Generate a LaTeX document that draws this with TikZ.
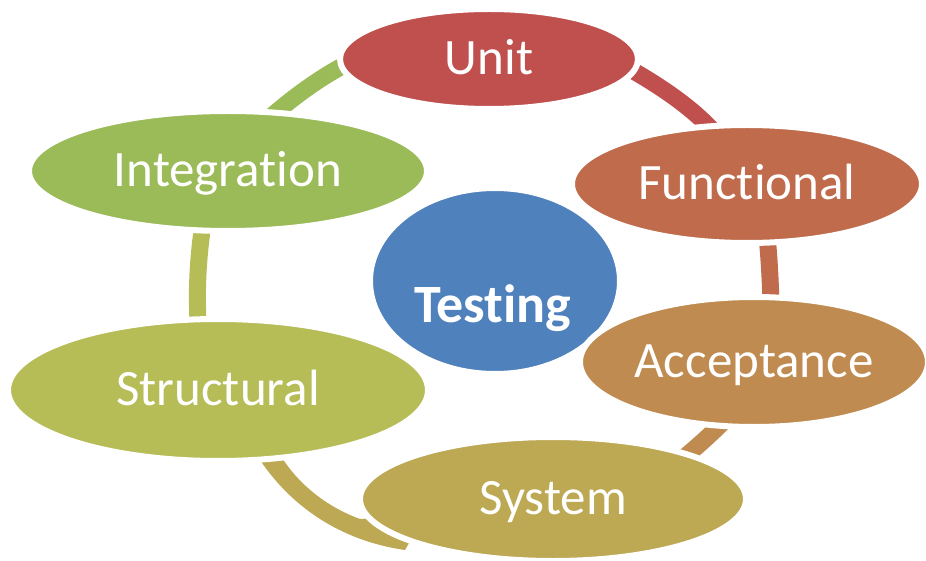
\documentclass[tikz,border=0pt]{standalone}
\usepackage{fontspec}
\setmainfont{Carlito}[Ligatures=NoCommon]
\usetikzlibrary{shapes.geometric}
\definecolor{unitC}{HTML}{C0504D}
\definecolor{funcC}{HTML}{BF6B4C}
\definecolor{accC}{HTML}{C08B50}
\definecolor{sysC}{HTML}{BDA853}
\definecolor{strC}{HTML}{B6BD57}
\definecolor{intC}{HTML}{9BBB59}
\definecolor{testC}{HTML}{4F81BD}
\begin{document}
\begin{tikzpicture}[x=1pt,y=-1pt,
  seg/.style={line width=17pt, line cap=butt},
  bubble/.style={ellipse, draw=white, line width=6pt, inner sep=0pt, text=white,
    font=\fontsize{51}{60}\selectfont, text height=31pt, text depth=0pt},
  centrelbl/.style={inner sep=0pt, text=white, font=\bfseries\fontsize{54}{60}\selectfont,
    text height=32pt, text depth=0pt}
]
\useasboundingbox (0,0) rectangle (926,561);

% ring segments (drawn first, partly hidden under the ellipses)
\coordinate (tlA) at (265,122); \coordinate (tlB) at (365,55);
\draw[seg, intC] (tlA) .. controls (295,95) and (330,70) .. (tlB);

\coordinate (trA) at (610,58); \coordinate (trB) at (722,142);
\draw[seg, unitC] (trA) .. controls (640,74) and (695,105) .. (trB);

\coordinate (rA) at (766,225); \coordinate (rB) at (771,318);
\draw[seg, funcC] (rA) .. controls (769,255) and (771,285) .. (rB);

\coordinate (brA) at (732,413); \coordinate (brB) at (672,467);
\draw[seg, accC] (brA) .. controls (718,428) and (692,452) .. (brB);

\coordinate (lA) at (199,338); \coordinate (lB) at (204,218);
\draw[seg, strC] (lA) .. controls (196,300) and (197,260) .. (lB);

\coordinate (blA) at (248,440); \coordinate (blTip) at (405,550);
\fill[sysC] (blA) .. controls (280,500) and (335,540) .. (blTip)
  -- (425,515) -- (360,519) .. controls (322,505) and (290,478) .. (272,440) -- cycle;

% nodes
\node[bubble, fill=testC, minimum width=250pt, minimum height=186pt] (testing) at (495,281) {};
\node[centrelbl] (testinglbl) at (493,306) {Testing};
\node[bubble, fill=unitC, minimum width=298pt, minimum height=100pt] (unit) at (489,59) {Unit};
\node[bubble, fill=funcC, minimum width=350pt, minimum height=118pt] (functional) at (747,184) {Functional};
\node[bubble, fill=accC, minimum width=348pt, minimum height=130pt] (acceptance) at (754,362) {Acceptance};
\node[bubble, fill=sysC, minimum width=386pt, minimum height=124pt] (system) at (553,499) {System};
\node[bubble, fill=strC, minimum width=420pt, minimum height=142pt] (structural) at (218,390) {Structural};
\node[bubble, fill=intC, minimum width=398pt, minimum height=120pt] (integration) at (228,171) {Integration};
\end{tikzpicture}
\end{document}
